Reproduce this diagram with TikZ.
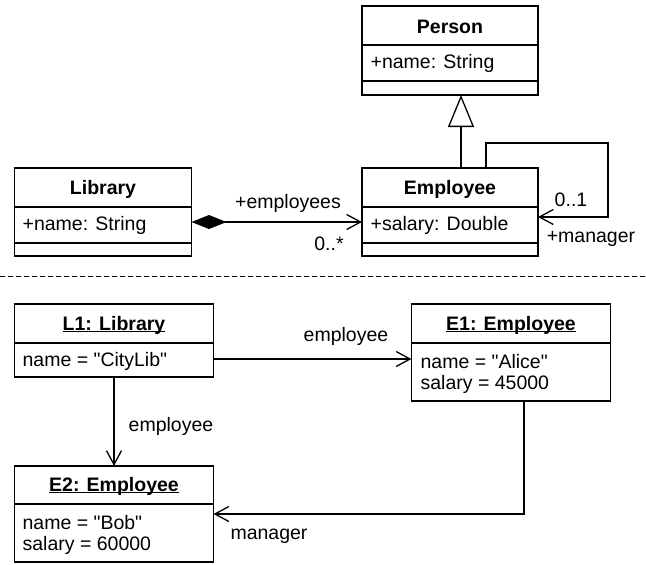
\documentclass[tikz,border=0pt]{standalone}
\usepackage{fontspec}
\setmainfont{Liberation Sans}[Ligatures=TeXOff]
\usepackage{tikz}
\usetikzlibrary{arrows.meta}

\newcommand{\objtitle}[1]{\setbox0\hbox{\textbf{#1}}\rlap{\rule[-2.2pt]{\wd0}{1.3pt}}\box0}

\begin{document}
\begin{tikzpicture}[x=1pt,y=-1pt,line width=1.3pt,
    font=\fontsize{19.5}{23}\selectfont,
    umlbox/.style={draw,rectangle,inner sep=0pt,outer sep=0pt},
    attr/.style={anchor=west,inner sep=0pt},
    lbl/.style={inner sep=0pt},
    assoc/.style={-{Straight Barb[length=14pt,width=15pt]}},
    inherit/.style={-{Triangle[open,length=32pt,width=26pt]}},
    compose/.style={{Diamond[length=35pt,width=14pt]}-{Straight Barb[length=14pt,width=15pt]}}]
            \useasboundingbox (0,0) rectangle (646,565);

            % Class diagram
            \node[umlbox,minimum width=176pt,minimum height=89pt] (person) at (450,50.5) {};
            \draw (person.north west) ++(0,39) -- ++(176,0);
            \draw (person.north west) ++(0,75) -- ++(176,0);
            \node[lbl] (personT) at (450,27) {\textbf{Person}};
            \node[attr] (personA) at (370,63) {+name: String};

            \node[umlbox,minimum width=177pt,minimum height=88pt] (library) at (103,212) {};
            \draw (library.north west) ++(0,39) -- ++(177,0);
            \draw (library.north west) ++(0,75) -- ++(177,0);
            \node[lbl] (libraryT) at (103,189) {\textbf{Library}};
            \node[attr] (libraryA) at (22,225) {+name: String};

            \node[umlbox,minimum width=176pt,minimum height=88pt] (employee) at (450,212) {};
            \draw (employee.north west) ++(0,39) -- ++(176,0);
            \draw (employee.north west) ++(0,75) -- ++(176,0);
            \node[lbl] (employeeT) at (450,189) {\textbf{Employee}};
            \node[attr] (employeeA) at (370,225) {+salary: Double};

            % The links of the class diagram
            \draw[inherit] ([xshift=11pt]employee.north) -- ([xshift=11pt]person.south);
            \draw[assoc] ([xshift=36pt]employee.north) -- ++(0,-25) -- ++(122,0) |- ([yshift=-5pt]employee.east);
            \draw[compose] ([yshift=-10pt]library.east) -- ([yshift=-10pt]employee.west);
            \node[lbl] (empsL) at (288,203) {+employees};
            \node[lbl] (empsM) at (329,244) {0..*};
            \node[lbl] (mgrM) at (571,200) {0..1};
            \node[lbl] (mgrL) at (591,239) {+manager};

            % The separator
            \coordinate (sepL) at (0,276);
            \coordinate (sepR) at (646,276);
            \draw[line width=1pt,dash pattern=on 5pt off 3pt] (sepL) -- (sepR);

            % Object diagram
            \node[umlbox,minimum width=199pt,minimum height=73pt] (l1) at (114,340.5) {};
            \draw (l1.north west) ++(0,39) -- ++(199,0);
            \node[lbl] (l1T) at (114,325) {\objtitle{L1: Library}};
            \node[attr] (l1A) at (22,361) {name = "CityLib"};

            \node[umlbox,minimum width=199pt,minimum height=97pt] (e1) at (511,352.5) {};
            \draw (e1.north west) ++(0,39) -- ++(199,0);
            \node[lbl] (e1T) at (511,325) {\objtitle{E1: Employee}};
            \node[attr] (e1A) at (420,362) {name = "Alice"};
            \node[attr] (e1B) at (420,384) {salary = 45000};

            \node[umlbox,minimum width=199pt,minimum height=96pt] (e2) at (114,514) {};
            \draw (e2.north west) ++(0,38) -- ++(199,0);
            \node[lbl] (e2T) at (114,486) {\objtitle{E2: Employee}};
            \node[attr] (e2A) at (22,523) {name = "Bob"};
            \node[attr] (e2B) at (22,545) {salary = 60000};

            % The links of the object diagram
            \draw[assoc] ([yshift=-18.5pt]l1.east) -- ([yshift=-18.5pt]l1.east -| e1.west);
            \draw[assoc] (l1.south) -- (e2.north);
            \draw[assoc] ([xshift=13pt]e1.south) |- (e2.east);
            \node[lbl] (linkA) at (346,336) {employee};
            \node[lbl] (linkB) at (171,426) {employee};
            \node[lbl] (linkC) at (269,536) {manager};
        \end{tikzpicture}
\end{document}
